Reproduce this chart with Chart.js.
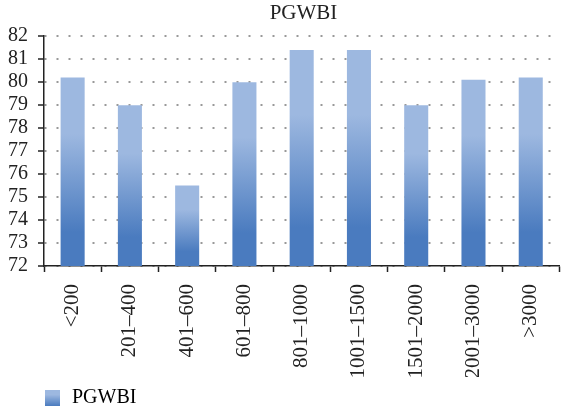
<!DOCTYPE html>
<html>
<head>
<meta charset="utf-8">
<script src="https://cdn.jsdelivr.net/npm/chart.js@4.4.0/dist/chart.umd.min.js"></script>
<style>
  html, body { margin: 0; padding: 0; background: #fff; }
  #wrap { width: 568px; height: 407px; }
</style>
</head>
<body>
<div id="wrap"><canvas id="myChart" width="568" height="407"></canvas></div>
<script>
const categories = ['<200', '201\u2013400', '401\u2013600', '601\u2013800', '801\u20131000',
                    '1001\u20131500', '1501\u20132000', '2001\u20133000', '>3000'];
const pgwbiValues = [80.2, 79.0, 75.5, 80.0, 81.4, 81.4, 79.0, 80.1, 80.2];
const yTicks = [72, 73, 74, 75, 76, 77, 78, 79, 80, 81, 82];

const LIGHT = '#9db8e0';
const DARK = '#4a7bbf';
const SERIF = "'Liberation Serif', 'DejaVu Serif', serif";

// small gradient swatch for the legend
const swatch = document.createElement('canvas');
swatch.width = 15; swatch.height = 16;
(function () {
    const c = swatch.getContext('2d');
    const g = c.createLinearGradient(0, 0, 0, 16);
    g.addColorStop(0, LIGHT);
    g.addColorStop(0.3, LIGHT);
    g.addColorStop(1, DARK);
    c.fillStyle = g;
    c.fillRect(0, 0, 15, 16);
})();

function barGradient(context) {
    const chart = context.chart;
    if (!chart.chartArea || context.raw === undefined) return '#7a9fd6';
    const y = chart.scales.y;
    const top = y.getPixelForValue(context.raw);
    const bottom = y.getPixelForValue(yTicks[0]);
    const g = chart.ctx.createLinearGradient(0, top, 0, bottom);
    g.addColorStop(0, LIGHT);
    g.addColorStop(0.3, LIGHT);
    g.addColorStop(0.82, DARK);
    g.addColorStop(1, DARK);
    return g;
}

// nudge title over the plot and the legend under the y axis
const blockShift = {
    id: 'blockShift',
    afterLayout(chart) {
        chart.legend.left += 34;
        chart.legend.top += 11;
        chart.legend.bottom += 11;
        chart.titleBlock.left += 16;
        chart.titleBlock.right += 16;
    }
};

const ctx = document.getElementById('myChart');
new Chart(ctx, {
    type: 'bar',
    data: {
        labels: categories,
        datasets: [{
            label: 'PGWBI',
            data: pgwbiValues,
            backgroundColor: barGradient,
            borderWidth: 0,
            barPercentage: 0.42,
            categoryPercentage: 1
        }]
    },
    options: {
        responsive: false,
        animation: false,
        layout: { padding: { left: 8, right: 1, top: 0, bottom: 0 } },
        plugins: {
            title: {
                display: true,
                text: 'PGWBI',
                color: '#222',
                font: { family: SERIF, size: 21, weight: 'normal' },
                padding: { top: 1, bottom: 10 }
            },
            legend: {
                position: 'bottom',
                align: 'start',
                labels: {
                    usePointStyle: true,
                    color: '#222',
                    font: { family: SERIF, size: 20 },
                    padding: 0,
                    generateLabels: () => [{
                        text: 'PGWBI',
                        pointStyle: swatch,
                        fillStyle: '#7a9fd6',
                        strokeStyle: 'rgba(0,0,0,0)',
                        lineWidth: 0,
                        datasetIndex: 0
                    }]
                }
            },
            tooltip: { enabled: false }
        },
        scales: {
            x: {
                grid: {
                    offset: true,
                    drawOnChartArea: false,
                    tickLength: 6,
                    tickColor: '#222',
                    tickWidth: 1.5
                },
                border: { color: '#222', width: 1.5 },
                ticks: {
                    color: '#222',
                    font: { family: SERIF, size: 21 },
                    minRotation: 90,
                    maxRotation: 90,
                    autoSkip: false,
                    padding: 12
                },
                afterFit: axis => { axis.height = 111; }
            },
            y: {
                min: yTicks[0],
                max: yTicks[yTicks.length - 1],
                afterBuildTicks: axis => { axis.ticks = yTicks.map(v => ({ value: v })); },
                afterFit: axis => { axis.width = 36; },
                grid: {
                    color: '#999',
                    lineWidth: 2,
                    tickLength: 6,
                    tickColor: '#222',
                    tickWidth: 1.5,
                    tickBorderDash: []
                },
                border: { color: '#222', width: 1.5, dash: [2, 10] },
                ticks: {
                    color: '#222',
                    font: { family: SERIF, size: 20 },
                    padding: 10,
                    autoSkip: false
                }
            }
        }
    },
    plugins: [blockShift]
});
</script>
</body>
</html>
